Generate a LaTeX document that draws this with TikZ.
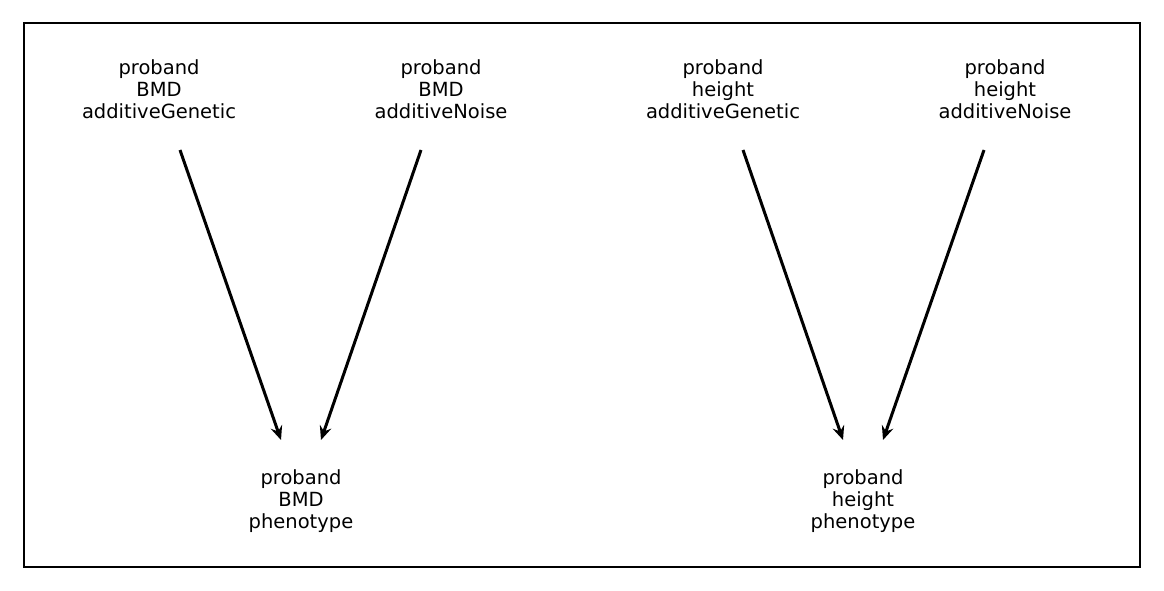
\documentclass[tikz,border=0pt]{standalone}
\usepackage{fontspec}
\setmainfont{DejaVu Sans}
\usetikzlibrary{arrows.meta}
\begin{document}
\begin{tikzpicture}[x=1pt,y=-1pt,
  lab/.style={align=center,font=\fontsize{19.5}{22}\selectfont,inner sep=0pt},
  arr/.style={line width=3pt,-{Stealth[length=14pt,width=12pt,inset=5pt]}}]
\useasboundingbox (0,0) rectangle (1164,591);
\draw[line width=2.2pt] (24,23) rectangle (1140,567);
\node[lab] (g1) at (159,89) {proband\\BMD\\additiveGenetic};
\node[lab] (n1) at (441,89) {proband\\BMD\\additiveNoise};
\node[lab] (g2) at (723,89) {proband\\height\\additiveGenetic};
\node[lab] (n2) at (1005,89) {proband\\height\\additiveNoise};
\node[lab] (p1) at (301,501) {proband\\BMD\\phenotype};
\node[lab] (p2) at (863,501) {proband\\height\\phenotype};
\coordinate (g1s) at (180,150); \coordinate (p1a) at (281,440);
\coordinate (n1s) at (421,150); \coordinate (p1b) at (321,440);
\coordinate (g2s) at (743,150); \coordinate (p2a) at (843,440);
\coordinate (n2s) at (984,150); \coordinate (p2b) at (883,440);
\draw[arr] (g1s) -- (p1a);
\draw[arr] (n1s) -- (p1b);
\draw[arr] (g2s) -- (p2a);
\draw[arr] (n2s) -- (p2b);
\end{tikzpicture}
\end{document}
